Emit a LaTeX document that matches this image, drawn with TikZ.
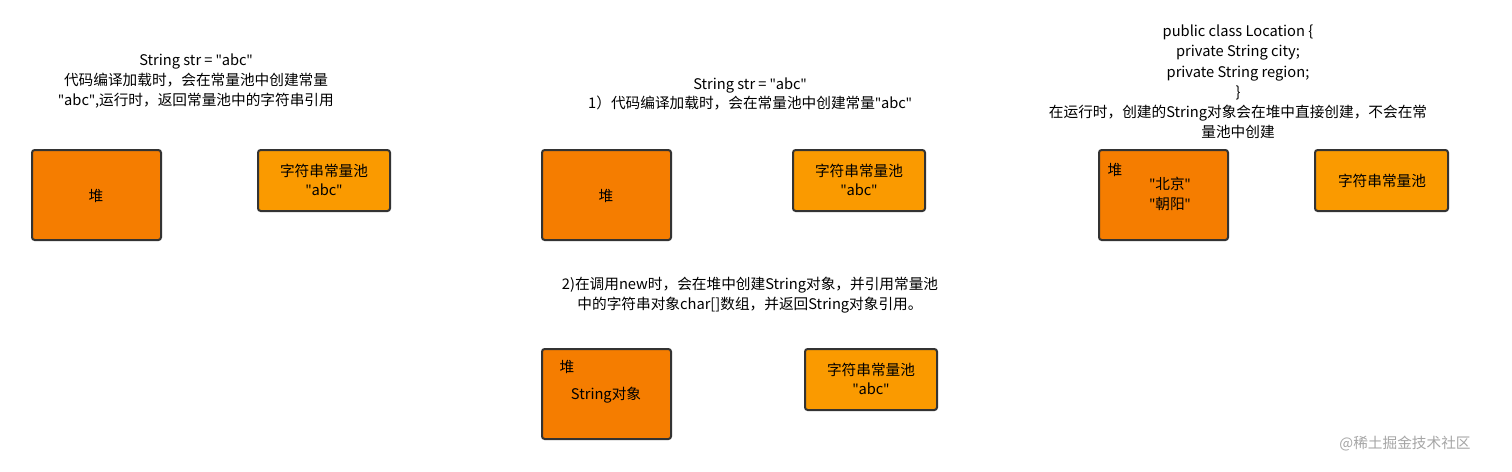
\documentclass[tikz,border=0pt]{standalone}
\usepackage{fontspec}
\setmainfont{Noto Sans CJK SC}
\newfontfamily\latinq{Noto Sans}
\newcommand{\qq}{{\latinq\symbol{34}}}
\definecolor{heapc}{HTML}{F57D00}
\definecolor{poolc}{HTML}{FA9A00}
\definecolor{edge}{HTML}{333333}
\begin{document}
\begin{tikzpicture}[x=0.75pt,y=-0.75pt,
  heap/.style={draw=edge,line width=1.5pt,fill=heapc,rounded corners=2pt},
  pool/.style={draw=edge,line width=1.5pt,fill=poolc,rounded corners=2pt},
  txt/.style={font=\fontsize{11pt}{14.8pt}\selectfont,align=center,text=black,inner sep=0pt},
  lbl/.style={font=\fontsize{11pt}{14.8pt}\selectfont,align=center,inner sep=0pt}]
\useasboundingbox[fill=white] (0,0) rectangle (1512,471);
% group 1
\node[txt] (t1) at (196,81) {String str = \qq abc\qq\\代码编译加载时，会在常量池中创建常量\\\qq abc\qq,运行时，返回常量池中的字符串引用};
\draw[heap] (32,150) rectangle (161,240);
\node[lbl] (h1) at (96,196) {堆};
\draw[pool] (258,150) rectangle (390,211);
\node[lbl] (p1) at (324,180) {字符串常量池\\\qq abc\qq};
% group 2
\node[txt] (t2) at (750,94) {String str = \qq abc\qq\\1）代码编译加载时，会在常量池中创建常量\qq abc\qq};
\draw[heap] (542,150) rectangle (671,240);
\node[lbl] (h2) at (606,196) {堆};
\draw[pool] (793,150) rectangle (925,211);
\node[lbl] (p2) at (859,180) {字符串常量池\\\qq abc\qq};
% group 3
\node[txt,font=\fontsize{11pt}{15.2pt}\selectfont] (t3) at (1238,82) {public class Location \{\\private String city;\\private String region;\\\}\\在运行时，创建的String对象会在堆中直接创建，不会在常\\量池中创建};
\draw[heap] (1099,150) rectangle (1228,240);
\node[lbl] (h3a) at (1115,170) {堆};
\node[lbl] (h3) at (1170,194) {\qq 北京\qq\\\qq 朝阳\qq};
\draw[pool] (1315,150) rectangle (1448,211);
\node[lbl] (p3) at (1382,181) {字符串常量池};
% group 4
\node[txt] (t4) at (750,295) {2)在调用new时，会在堆中创建String对象，并引用常量池\\中的字符串对象char[]数组，并返回String对象引用。};
\draw[heap] (542,349) rectangle (671,439);
\node[lbl] (h4a) at (567,367) {堆};
\node[lbl] (h4) at (606,395) {String对象};
\draw[pool] (805,349) rectangle (937,410);
\node[lbl] (p4) at (871,379) {字符串常量池\\\qq abc\qq};
\node[lbl,text=gray!70] (wm) at (1405,444) {@稀土掘金技术社区};
\end{tikzpicture}
\end{document}
